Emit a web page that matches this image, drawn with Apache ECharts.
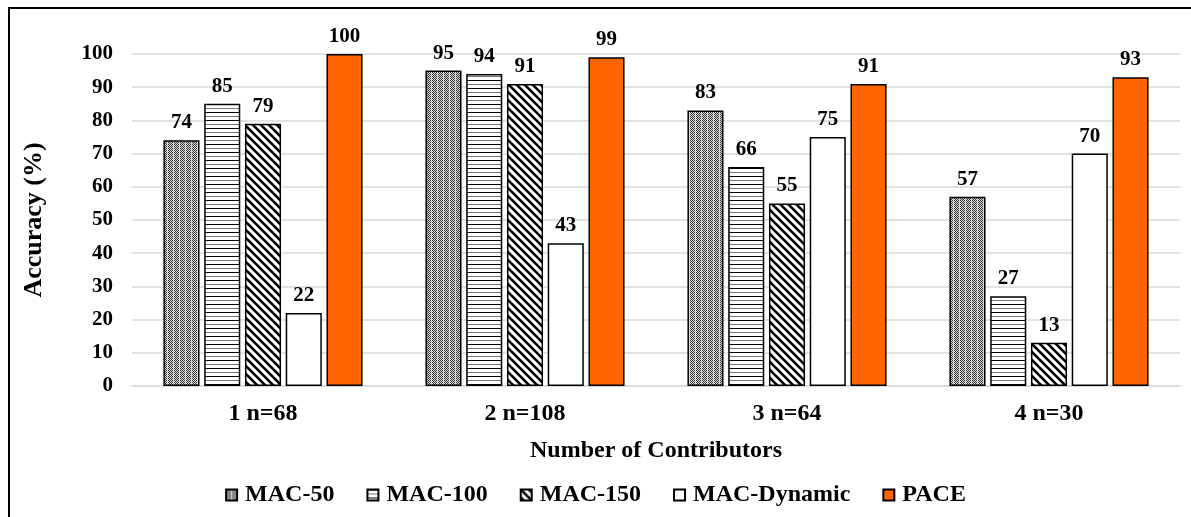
<!DOCTYPE html>
<html><head><meta charset="utf-8">
<script src="https://cdn.jsdelivr.net/npm/echarts@6/dist/echarts.min.js"></script>
<style>
html,body{margin:0;padding:0;background:#fff;}
#frame{position:absolute;left:8px;top:7px;width:1183px;height:510px;border-left:2px solid #000;border-top:2px solid #000;box-sizing:border-box;}
#c{position:absolute;left:0;top:0;width:1191px;height:517px;}
</style></head>
<body>
<div id="frame"></div>
<div id="c"></div>
<script>
const categories = ['1 n=68', '2 n=108', '3 n=64', '4 n=30'];
const seriesNames = ['MAC-50', 'MAC-100', 'MAC-150', 'MAC-Dynamic', 'PACE'];
const mac50 = [74, 95, 83, 57];
const mac100 = [85, 94, 66, 27];
const mac150 = [79, 91, 55, 13];
const macDynamic = [22, 43, 75, 70];
const pace = [100, 99, 91, 93];
const yTicks = [0, 100, 10];

function tile(w, h, draw) {
  const c = document.createElement('canvas');
  c.width = w; c.height = h;
  const ctx = c.getContext('2d');
  ctx.fillStyle = '#fff'; ctx.fillRect(0, 0, w, h);
  draw(ctx, w, h);
  return c;
}
const dotPat = tile(6, 4, (ctx) => {
  for (let y = 0; y < 4; y++) for (let x = 0; x < 6; x++) {
    if (x === 5) { ctx.fillStyle = (y % 2) ? '#bbb' : '#eee'; ctx.fillRect(x, y, 1, 1); continue; }
    if ((x + y) % 2 === 0) { ctx.fillStyle = '#333'; ctx.fillRect(x, y, 1, 1); }
    else { ctx.fillStyle = '#ddd'; ctx.fillRect(x, y, 1, 1); }
  }
});
const hPat = tile(4, 8, (ctx, w) => {
  ctx.fillStyle = '#000'; ctx.fillRect(0, 0, w, 1);
  ctx.fillStyle = '#777'; ctx.fillRect(0, 4, w, 1);
});
const dPat = tile(8, 8, (ctx) => {
  ctx.strokeStyle = '#000'; ctx.lineWidth = 2.6;
  for (let k = -2; k <= 2; k++) {
    ctx.beginPath(); ctx.moveTo(k * 8 - 2, -2); ctx.lineTo(k * 8 + 10, 10); ctx.stroke();
  }
});

const fills = [
  { image: dotPat, repeat: 'repeat' },
  { image: hPat, repeat: 'repeat' },
  { image: dPat, repeat: 'repeat' },
  '#ffffff',
  '#FF6600'
];
const values = [mac50, mac100, mac150, macDynamic, pace];
const font = '"Liberation Serif", "Times New Roman", serif';

const chart = echarts.init(document.getElementById('c'));
chart.setOption({
  animation: false,
  textStyle: { fontFamily: font },
  grid: { left: 132, right: 11, top: 54, bottom: 131 },
  legend: {
    top: 478, left: 'center', icon: 'rect', itemWidth: 11, itemHeight: 11, itemGap: 32,
    textStyle: { fontFamily: font, fontWeight: 'bold', fontSize: 24, color: '#000', padding: [0, 0, 0, 3] },
    data: seriesNames
  },
  xAxis: {
    type: 'category', data: categories,
    name: 'Number of Contributors', nameLocation: 'middle', nameGap: 53,
    nameTextStyle: { fontFamily: font, fontWeight: 'bold', fontSize: 24, color: '#000' },
    axisLine: { lineStyle: { color: '#d9d9d9', width: 1.5 } },
    axisTick: { show: false },
    axisLabel: { fontFamily: font, fontWeight: 'bold', fontSize: 24, color: '#000', margin: 16 }
  },
  yAxis: {
    type: 'value', min: yTicks[0], max: yTicks[1], interval: yTicks[2],
    name: 'Accuracy (%)', nameLocation: 'middle', nameGap: 85,
    nameTextStyle: { fontFamily: font, fontWeight: 'bold', fontSize: 26, color: '#000' },
    axisLine: { show: false }, axisTick: { show: false },
    splitLine: { lineStyle: { color: '#d9d9d9', width: 1.5 } },
    axisLabel: { fontFamily: font, fontWeight: 'bold', fontSize: 21, color: '#000', margin: 19 }
  },
  series: seriesNames.map((n, i) => ({
    name: n, type: 'bar', data: values[i],
    barCategoryGap: '24%', barGap: '13%',
    itemStyle: { color: fills[i], borderColor: '#000', borderWidth: 1.5 },
    label: {
      show: true, position: 'top', distance: 7,
      fontFamily: font, fontWeight: 'bold', fontSize: 21, color: '#000'
    }
  }))
});
</script>
</body></html>
